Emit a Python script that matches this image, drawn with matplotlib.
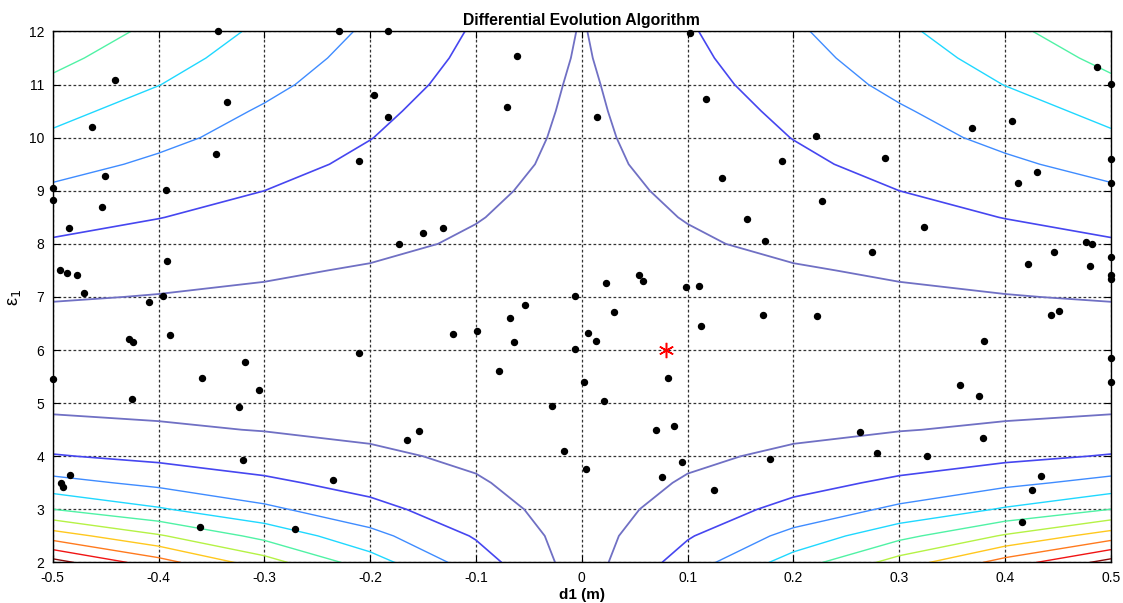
import numpy as np
import matplotlib
matplotlib.use('Agg')
import matplotlib.pyplot as plt

plt.rcParams['font.family'] = ['Liberation Sans', 'DejaVu Sans']

# cost surface sampled on the d1 >= 0 half (mirrored for d1 < 0)
d1_half = [0.0, 0.1, 0.2, 0.3, 0.4, 0.5]
eps_grid = [2.0, 2.5, 3.0, 3.5, 4.0, 4.5, 5.0, 5.5, 6.0, 6.5, 7.0,
            7.5, 8.0, 8.5, 9.0, 9.5, 10.0, 10.5, 11.0, 11.5, 12.0]
cost_half = [
    [0.50, 2.48, 4.46, 6.44, 8.42, 10.40],
    [0.51, 1.91, 3.31, 4.71, 6.11, 7.51],
    [0.51, 1.41, 2.31, 3.21, 4.11, 5.01],
    [0.52, 1.08, 1.64, 2.20, 2.76, 3.32],
    [0.54, 0.85, 1.15, 1.46, 1.76, 2.07],
    [0.56, 0.70, 0.83, 0.97, 1.11, 1.25],
    [0.57, 0.62, 0.67, 0.72, 0.77, 0.82],
    [0.58, 0.60, 0.61, 0.63, 0.64, 0.66],
    [0.59, 0.60, 0.60, 0.61, 0.61, 0.62],
    [0.60, 0.63, 0.65, 0.68, 0.70, 0.73],
    [0.62, 0.71, 0.79, 0.88, 0.97, 1.06],
    [0.64, 0.79, 0.94, 1.09, 1.24, 1.39],
    [0.67, 0.91, 1.16, 1.40, 1.64, 1.89],
    [0.70, 1.03, 1.36, 1.69, 2.02, 2.35],
    [0.73, 1.15, 1.57, 2.00, 2.42, 2.84],
    [0.77, 1.29, 1.80, 2.32, 2.83, 3.35],
    [0.80, 1.41, 2.02, 2.63, 3.24, 3.85],
    [0.83, 1.52, 2.21, 2.90, 3.59, 4.28],
    [0.86, 1.65, 2.44, 3.23, 4.02, 4.81],
    [0.91, 1.78, 2.65, 3.52, 4.39, 5.26],
    [0.95, 1.90, 2.85, 3.80, 4.75, 5.70],
]
levels = [1, 2, 3, 4, 5, 6, 7, 8, 9, 10]
level_colors = ['#7070c4', '#4646f0', '#3f8cff', '#1fd8ff', '#50f2a5',
                '#b5f245', '#ffc81e', '#ff7a1e', '#f01414', '#8c0a0a']

# population of the differential evolution run
pop_d1 = [-0.344, -0.229, -0.183, 0.102, 0.487, -0.441, 0.500, -0.196, -0.335, -0.061,
          -0.071, -0.183, 0.014, 0.117, -0.463, 0.369, 0.406, 0.221, -0.346, -0.211,
          0.500, 0.189, 0.286, -0.451, 0.132, 0.430, -0.500, -0.393, 0.500, 0.412,
          -0.500, -0.453, 0.227, 0.156, 0.323, -0.485, -0.173, 0.173, 0.476, 0.482,
          -0.150, -0.131, 0.274, 0.446, 0.500, -0.392, 0.422, 0.480, -0.493, -0.486,
          -0.477, -0.470, 0.500, 0.500, -0.006, 0.0225, 0.054, 0.058, 0.098, 0.111,
          -0.396, -0.409, -0.054, -0.068, 0.030, 0.171, 0.222, 0.443, 0.451, -0.122,
          -0.099, -0.064, 0.006, 0.013, -0.006, 0.113, -0.428, -0.424, -0.389, 0.380,
          -0.211, -0.318, 0.500, -0.078, -0.500, -0.359, -0.305, 0.002, 0.081, 0.500,
          0.357, 0.375, -0.425, 0.021, -0.324, -0.028, -0.165, -0.154, 0.070, 0.087,
          0.263, 0.379, -0.017, 0.279, 0.178, 0.326, -0.320, 0.095, 0.004, -0.484,
          0.076, 0.434, -0.492, -0.490, -0.235, 0.125, 0.425, -0.361, -0.271, 0.416]
pop_eps = [12.00, 12.00, 12.00, 11.98, 11.34, 11.08, 11.01, 10.80, 10.67, 11.54,
           10.57, 10.38, 10.38, 10.72, 10.21, 10.18, 10.31, 10.03, 9.69, 9.56,
           9.59, 9.57, 9.61, 9.27, 9.25, 9.35, 9.05, 9.02, 9.15, 9.14,
           8.83, 8.70, 8.80, 8.46, 8.31, 8.30, 7.99, 8.05, 8.04, 8.00,
           8.20, 8.29, 7.85, 7.85, 7.76, 7.68, 7.63, 7.59, 7.51, 7.46,
           7.42, 7.08, 7.42, 7.34, 7.01, 7.27, 7.42, 7.31, 7.19, 7.21,
           7.01, 6.91, 6.84, 6.61, 6.72, 6.67, 6.65, 6.67, 6.74, 6.31,
           6.35, 6.16, 6.33, 6.18, 6.02, 6.46, 6.20, 6.15, 6.28, 6.18,
           5.95, 5.78, 5.85, 5.61, 5.46, 5.47, 5.25, 5.40, 5.47, 5.40,
           5.34, 5.14, 5.08, 5.04, 4.93, 4.95, 4.31, 4.48, 4.50, 4.57,
           4.46, 4.34, 4.10, 4.06, 3.95, 4.01, 3.93, 3.89, 3.76, 3.64,
           3.61, 3.63, 3.50, 3.42, 3.55, 3.37, 3.36, 2.66, 2.63, 2.76]
best_d1 = 0.08
best_eps = 6.0

x_ticks = [-0.5, -0.4, -0.3, -0.2, -0.1, 0, 0.1, 0.2, 0.3, 0.4, 0.5]
x_labels = ['-0.5', '-0.4', '-0.3', '-0.2', '-0.1', '0', '0.1', '0.2', '0.3', '0.4', '0.5']
y_ticks = [2, 3, 4, 5, 6, 7, 8, 9, 10, 11, 12]

half = np.array(cost_half)
cost = np.hstack([half[:, :0:-1], half])
d1_full = np.concatenate([-np.array(d1_half[:0:-1]), d1_half])

fig = plt.figure(figsize=(11.23, 6.03), dpi=100)
ax = fig.add_axes([0.0469, 0.0672, 0.9424, 0.8806])

ax.contour(d1_full, eps_grid, cost, levels=levels, colors=level_colors,
           linewidths=[1.3, 1.2, 1, 1, 1, 1, 1, 1, 1, 1])

ax.plot(pop_d1, pop_eps, 'o', color='black', markersize=4.3, clip_on=False, zorder=5)
ax.plot(best_d1, best_eps, marker=(6, 2, 0), color='red', markersize=11,
        markeredgewidth=1.1, linestyle='none', zorder=6)

ax.set_xlim(-0.5, 0.5)
ax.set_ylim(2, 12)
ax.set_xticks(x_ticks)
ax.set_xticklabels(x_labels)
ax.set_yticks(y_ticks)
ax.grid(True, color='#333333', linestyle=(0, (2.2, 1.8)), linewidth=0.9)
ax.set_axisbelow(True)
ax.tick_params(direction='in', top=True, right=True, length=5, width=0.8,
               labelsize=10, colors='black', pad=6)
for sp in ax.spines.values():
    sp.set_linewidth(1.0)

ax.set_title('Differential Evolution Algorithm', fontsize=11.3, fontweight='bold', pad=5)
ax.set_xlabel('d1 (m)', fontsize=11, fontweight='bold', labelpad=2)
ax.set_ylabel('ε$_1$', fontsize=13, labelpad=4)

fig.savefig('out.png', dpi=100)
